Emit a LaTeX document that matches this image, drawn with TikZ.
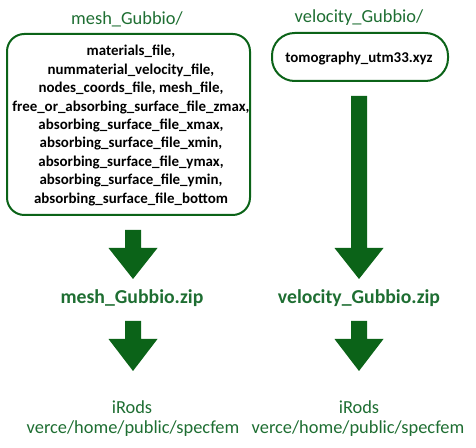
\documentclass[tikz,border=0pt]{standalone}
\usepackage{fontspec}
\setmainfont{Carlito}
\usepackage{tikz}
\definecolor{darkleaf}{RGB}{11,99,24}
\definecolor{leaftext}{RGB}{30,110,50}
\def\greenarrow(#1,#2)(#3,#4){\fill[darkleaf] (#1-8,#2) -- (#1+8,#2) -- (#1+8,#3) -- (#1+24.5,#3) -- (#1,#4) -- (#1-24.5,#3) -- (#1-8,#3) -- cycle;}

\begin{document}
\begin{tikzpicture}[x=0.75pt,y=-0.75pt,
	dirlabel/.style={text=leaftext,font=\fontsize{13.8}{16}\selectfont},
	ziplabel/.style={text=leaftext,font=\fontsize{14.8}{17}\selectfont\bfseries},
	filelist/.style={align=center,font=\fontsize{11.2}{13.8}\selectfont\bfseries},
	folder/.style={draw=darkleaf,line width=1.5pt}]
			%%%%% START %%%%%
			\useasboundingbox (0,0) rectangle (476,448);
			
			% left column
			\node[dirlabel] (meshdir) at (127,19) {mesh\_Gubbio/};
			\draw[folder,rounded corners=13pt] (7,34) rectangle (250,215);
			\node[filelist] (meshfiles) at (131,125.5) {materials\_file,\\nummaterial\_velocity\_file,\\nodes\_coords\_file, mesh\_file,\\free\_or\_absorbing\_surface\_file\_zmax,\\absorbing\_surface\_file\_xmax,\\absorbing\_surface\_file\_xmin,\\absorbing\_surface\_file\_ymax,\\absorbing\_surface\_file\_ymin,\\absorbing\_surface\_file\_bottom};
			
			\greenarrow(133,230)(248,279)
			\node[ziplabel] (meshzip) at (132,298) {mesh\_Gubbio.zip};
			\greenarrow(133,321)(339,371)
			
			\node[dirlabel] (meshirods) at (132,407) {iRods};
			\node[dirlabel] (meshpath) at (133,429) {verce/home/public/specfem};
			
			% right column
			\node[dirlabel] (veldir) at (359,18) {velocity\_Gubbio/};
			\draw[folder,rounded corners=17pt] (272,33) rectangle (448,81);
			\node[filelist] (velfile) at (359,59) {tomography\_utm33.xyz};
			
			\greenarrow(359,96)(248,279)
			\node[ziplabel] (velzip) at (359,298) {velocity\_Gubbio.zip};
			\greenarrow(359,321)(339,371)
			
			\node[dirlabel] (velirods) at (359,407) {iRods};
			\node[dirlabel] (velpath) at (358,429) {verce/home/public/specfem};
			%%%%% END %%%%%
\end{tikzpicture}
\end{document}
